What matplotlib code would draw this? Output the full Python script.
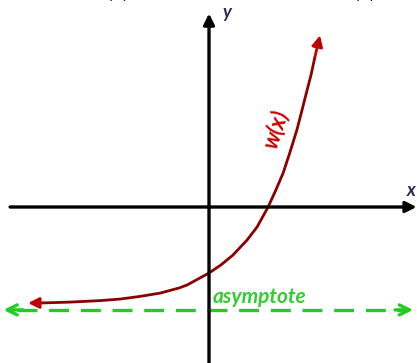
import matplotlib.pyplot as plt

# curve points (1 unit = 30 px, origin at axes crossing)
curve_x = [-5.63, -4.63, -3.63, -2.97, -2.3, -1.63, -1.0, -0.73, 0.0, 0.4, 0.8,
           1.27, 1.6, 1.97, 2.23, 2.47, 2.7, 2.93, 3.1, 3.27, 3.4, 3.53]
curve_y = [-3.2, -3.17, -3.12, -3.07, -2.98, -2.87, -2.7, -2.6, -2.2, -1.93, -1.6,
           -1.1, -0.67, 0.0, 0.57, 1.13, 1.83, 2.57, 3.23, 3.9, 4.4, 5.0]
curve_tip_left = (-6.03, -3.2)
curve_tip_top = (3.7, 5.72)
asymptote_y = -3.43

xlim = (-6.967, 6.933)
ylim = (-5.2, 6.9)

fig = plt.figure(figsize=(4.17, 3.63), dpi=100)
ax = fig.add_axes([0, 0, 1, 1])
ax.set_xlim(*xlim)
ax.set_ylim(*ylim)
ax.axis('off')

font = 'Lato'

# axes with arrows
ax.annotate('', xy=(0, 6.45), xytext=(0, ylim[0]),
            arrowprops=dict(arrowstyle='-|>', color='black', lw=2.4,
                            mutation_scale=16, shrinkA=0, shrinkB=0))
ax.annotate('', xy=(6.92, 0), xytext=(-6.63, 0),
            arrowprops=dict(arrowstyle='-|>', color='black', lw=2.4,
                            mutation_scale=16, shrinkA=0, shrinkB=0))
ax.text(0.45, 6.48, 'y', fontsize=13, fontstyle='italic', fontweight='bold',
        color='#2a2a55', family=font, va='center', ha='left')
ax.text(6.6, 0.55, 'x', fontsize=13, fontstyle='italic', fontweight='bold',
        color='#2a2a55', family=font, va='center', ha='left')

# asymptote
green = '#22cc22'
ax.plot([-6.4, 6.6], [asymptote_y, asymptote_y], color=green, lw=2.4,
        dashes=(6, 3.5))
ax.annotate('', xy=(-6.85, asymptote_y), xytext=(-6.2, asymptote_y),
            arrowprops=dict(arrowstyle='->', color=green, lw=2.4,
                            mutation_scale=18, shrinkA=0, shrinkB=0))
ax.annotate('', xy=(6.8, asymptote_y), xytext=(6.2, asymptote_y),
            arrowprops=dict(arrowstyle='->', color=green, lw=2.4,
                            mutation_scale=18, shrinkA=0, shrinkB=0))
ax.text(0.12, -3.0, 'asymptote', fontsize=15, fontstyle='italic',
        fontweight='bold', color='#33cc33', family=font, va='center', ha='left')

# the curve
ax.plot(curve_x, curve_y, color='#8b0000', lw=2.0, solid_capstyle='butt',
        solid_joinstyle='round')
ax.annotate('', xy=curve_tip_left, xytext=(curve_x[0], curve_y[0]),
            arrowprops=dict(arrowstyle='-|>', color='#c00000', lw=2.0,
                            mutation_scale=16, shrinkA=0, shrinkB=0))
ax.annotate('', xy=curve_tip_top, xytext=(curve_x[-1], curve_y[-1]),
            arrowprops=dict(arrowstyle='-|>', color='#c00000', lw=2.0,
                            mutation_scale=16, shrinkA=0, shrinkB=0))
ax.text(2.2, 2.6, 'w(x)', fontsize=16, fontstyle='italic', fontweight='bold',
        color='#cc0000', family=font, rotation=72, va='center', ha='center')

# cut-off text from above the image
ax.text(-3.03, 6.97, '(x)', fontsize=15, color='black', family=font,
        ha='center', va='baseline')
ax.text(5.2, 6.97, '(x)', fontsize=15, color='black', family=font,
        ha='center', va='baseline')

fig.savefig('out.png', dpi=100)
